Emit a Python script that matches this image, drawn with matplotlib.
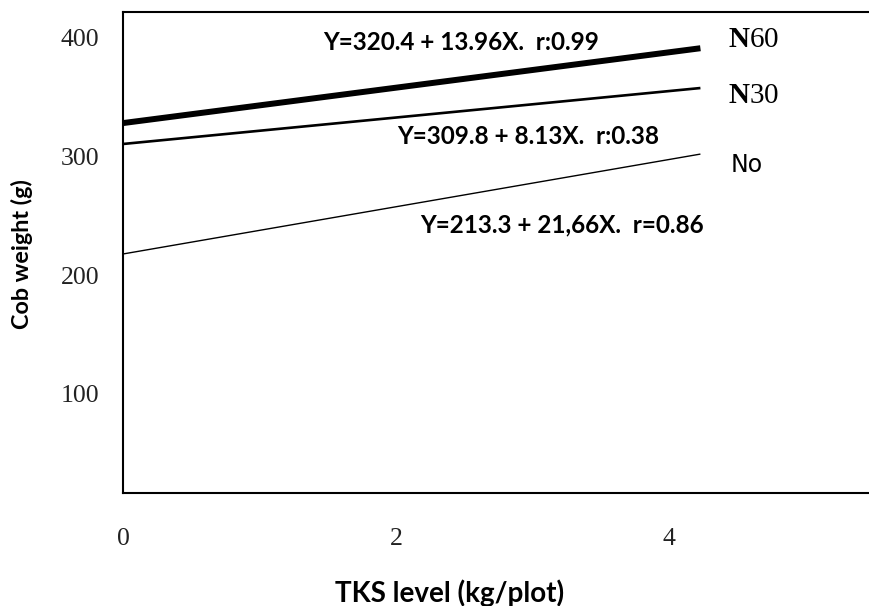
import matplotlib
matplotlib.use("Agg")
import matplotlib.pyplot as plt

# TKS level (kg/plot) - line end points
tks = [0, 4.23]
n60 = [328, 391]
n30 = [310.4, 357.5]
n0 = [217.8, 301.9]

eq_n60 = "Y=320.4 + 13.96X.  r:0.99"
eq_n30 = "Y=309.8 + 8.13X.  r:0.38"
eq_n0 = "Y=213.3 + 21,66X.  r=0.86"

x_ticks = [0, 2, 4]
y_ticks = [100, 200, 300, 400]

plt.rcParams["mathtext.fontset"] = "custom"
plt.rcParams["mathtext.rm"] = "Liberation Serif"
plt.rcParams["mathtext.bf"] = "Liberation Serif:bold"

fig = plt.figure(figsize=(8.69, 6.06), dpi=100)
ax = fig.add_axes([123 / 869, 1 - 493 / 606, 1 - 123 / 869, (493 - 12) / 606])

ax.plot(tks, n60, color="black", lw=4.3, solid_capstyle="butt")
ax.plot(tks, n30, color="black", lw=1.9, solid_capstyle="butt")
ax.plot(tks, n0, color="black", lw=1.0, solid_capstyle="butt")

ax.set_xlim(0, 5.465)
ax.set_ylim(16.6, 421.5)
ax.spines["right"].set_visible(False)
for s in ["left", "top", "bottom"]:
    ax.spines[s].set_linewidth(1.5)

ax.set_xticks(x_ticks)
ax.set_yticks(y_ticks)
ax.tick_params(length=0)
ax.tick_params(axis="x", pad=25)
ax.tick_params(axis="y", pad=17)
for lab in ax.get_xticklabels() + ax.get_yticklabels():
    lab.set_fontfamily("Liberation Serif")
    lab.set_fontsize(18.5)
    lab.set_color("#222222")

eq_font = dict(family="Lato", weight="bold", fontsize=17.5, va="center", ha="left")
ax.text(1.465, 396.2, eq_n60, **eq_font)
ax.text(2.007, 317, eq_n30, **eq_font)
ax.text(2.176, 242.2, eq_n0, **eq_font)

ax.text(4.43, 397.9, r"$\mathbf{N}$60", family="Liberation Serif", fontsize=21, va="center")
ax.text(4.43, 350.8, r"$\mathbf{N}$30", family="Liberation Serif", fontsize=21, va="center")
ax.text(4.45, 292.7, "No", family="DejaVu Sans", fontsize=17, va="center")

fig.text(450 / 869, 1 - 593 / 606, "TKS level (kg/plot)", family="Lato", weight="bold",
         fontsize=20, ha="center", va="center")
fig.text(22 / 869, 1 - 254 / 606, "Cob weight (g)", family="Lato", weight="bold",
         fontsize=16.8, ha="center", va="center", rotation=90)

fig.savefig("out.png", dpi=100)
